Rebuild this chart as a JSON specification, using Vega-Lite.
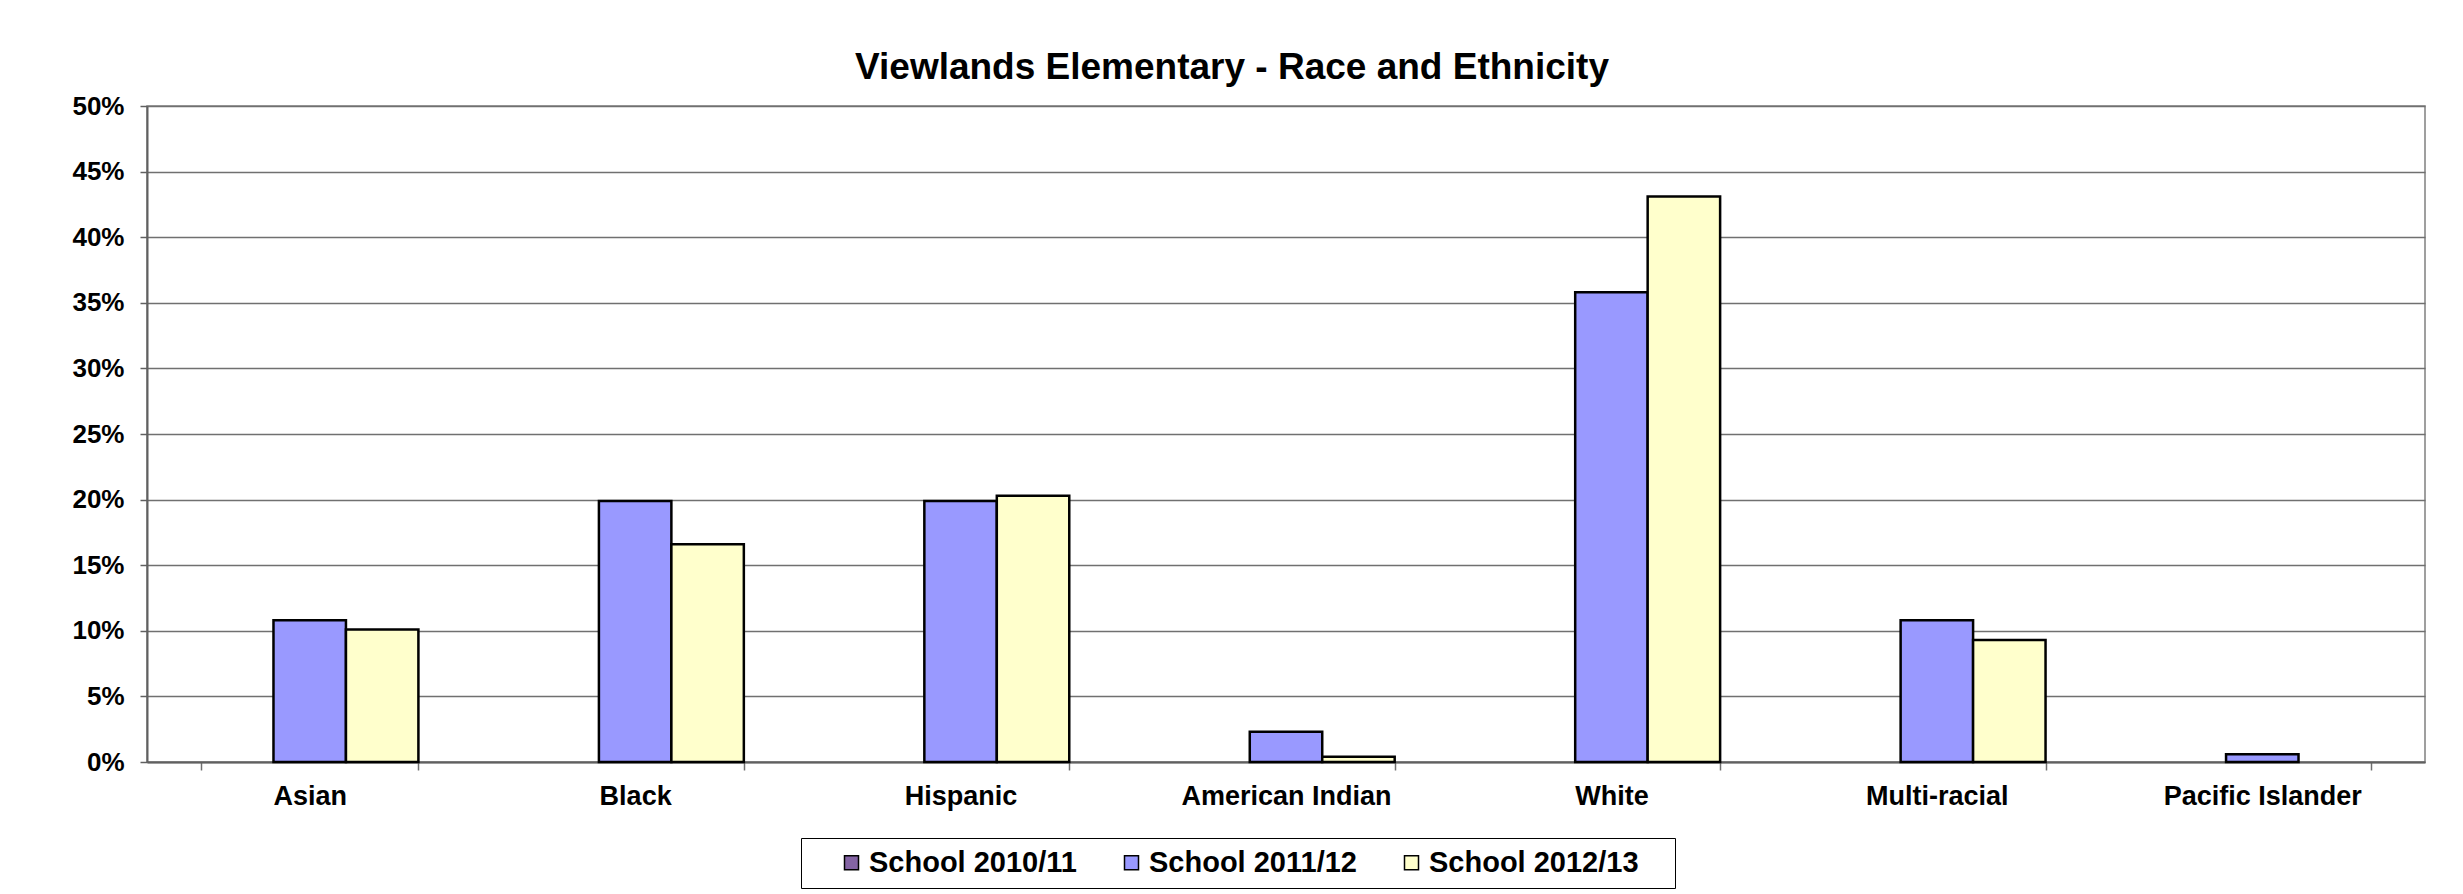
{
  "$schema": "https://vega.github.io/schema/vega-lite/v6.json",
  "autosize": "none",
  "width": 2278,
  "height": 656,
  "padding": {"left": 147, "top": 106, "right": 38, "bottom": 132},
  "background": "white",
  "title": {
    "text": "Viewlands Elementary - Race and Ethnicity",
    "font": "Liberation Sans",
    "fontSize": 37,
    "fontWeight": "bold",
    "color": "black",
    "anchor": "middle",
    "frame": "group",
    "dx": -54,
    "offset": 6
  },
  "data": {
    "values": [
      {"group": "Asian", "year": "School 2011/12", "share": 0.108},
      {"group": "Asian", "year": "School 2012/13", "share": 0.101},
      {"group": "Black", "year": "School 2011/12", "share": 0.199},
      {"group": "Black", "year": "School 2012/13", "share": 0.166},
      {"group": "Hispanic", "year": "School 2011/12", "share": 0.199},
      {"group": "Hispanic", "year": "School 2012/13", "share": 0.203},
      {"group": "American Indian", "year": "School 2011/12", "share": 0.023},
      {"group": "American Indian", "year": "School 2012/13", "share": 0.004},
      {"group": "White", "year": "School 2011/12", "share": 0.358},
      {"group": "White", "year": "School 2012/13", "share": 0.431},
      {"group": "Multi-racial", "year": "School 2011/12", "share": 0.108},
      {"group": "Multi-racial", "year": "School 2012/13", "share": 0.093},
      {"group": "Pacific Islander", "year": "School 2011/12", "share": 0.006}
    ]
  },
  "mark": {"type": "bar", "stroke": "black", "strokeWidth": 2.5},
  "encoding": {
    "x": {
      "field": "group",
      "type": "nominal",
      "sort": ["Asian", "Black", "Hispanic", "American Indian", "White", "Multi-racial", "Pacific Islander"],
      "scale": {"paddingInner": 0.332, "paddingOuter": 0.166},
      "axis": {
        "title": null,
        "labelAngle": 0,
        "labelFont": "Liberation Sans",
        "labelFontSize": 27,
        "labelFontWeight": "bold",
        "labelColor": "black",
        "labelLimit": 0,
        "labelPadding": 13,
        "tickBand": "extent",
        "tickSize": 8,
        "tickColor": "#707070",
        "tickWidth": 1.5,
        "domainColor": "#606060",
        "domainWidth": 2,
        "grid": false
      }
    },
    "xOffset": {
      "field": "year",
      "type": "nominal",
      "scale": {"domain": ["School 2010/11", "School 2011/12", "School 2012/13"], "paddingInner": 0, "paddingOuter": 0}
    },
    "y": {
      "field": "share",
      "type": "quantitative",
      "scale": {"domain": [0, 0.5], "nice": false},
      "axis": {
        "title": null,
        "format": ".0%",
        "values": [0, 0.05, 0.1, 0.15, 0.2, 0.25, 0.3, 0.35, 0.4, 0.45, 0.5],
        "labelFont": "Liberation Sans",
        "labelFontSize": 26,
        "labelFontWeight": "bold",
        "labelColor": "black",
        "labelPadding": 16,
        "tickSize": 7,
        "tickColor": "#606060",
        "tickWidth": 1.5,
        "domainColor": "#606060",
        "domainWidth": 2,
        "grid": true,
        "gridColor": "#707070",
        "gridWidth": 1.5
      }
    },
    "color": {
      "field": "year",
      "type": "nominal",
      "scale": {
        "domain": ["School 2010/11", "School 2011/12", "School 2012/13"],
        "range": ["#8464A4", "#9999FF", "#FFFFCC"]
      },
      "legend": {
        "title": " ",
        "titleOrient": "right",
        "titlePadding": 26,
        "titleFontSize": 8,
        "orient": "none",
        "legendX": 654,
        "legendY": 732,
        "direction": "horizontal",
        "columns": 3,
        "symbolType": "square",
        "symbolSize": 196,
        "symbolStrokeColor": "black",
        "symbolStrokeWidth": 1.5,
        "symbolOpacity": 1,
        "symbolOffset": 26,
        "labelOffset": 3,
        "columnPadding": 14,
        "labelFont": "Liberation Sans",
        "labelFontSize": 29,
        "labelFontWeight": "bold",
        "labelColor": "black",
        "labelLimit": 400,
        "padding": 10,
        "strokeColor": "black",
        "fillColor": "white"
      }
    }
  },
  "config": {
    "view": {"stroke": "#808080", "strokeWidth": 1.5}
  }
}
